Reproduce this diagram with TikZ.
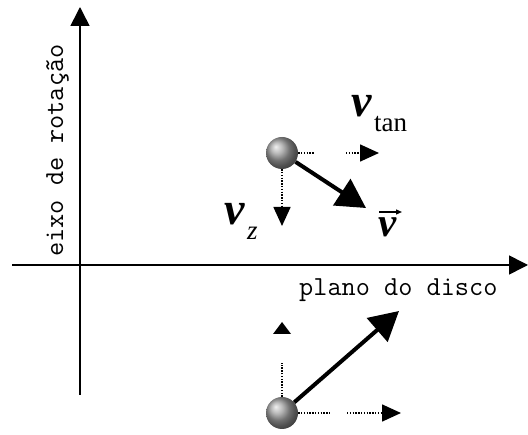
\documentclass[tikz,border=0pt]{standalone}
\usepackage{fontspec}
\usetikzlibrary{arrows.meta}
\newfontfamily\tnr{Liberation Serif}
\begin{document}
\begin{tikzpicture}[x=1pt,y=-1pt,
  axis/.style={line width=1.6pt,-{Triangle[length=19pt,width=19pt]}},
  ball/.style={circle,minimum size=32pt,inner sep=0pt,shading=ball,ball color=gray!75},
  dotline/.style={line width=1.6pt,dash pattern=on 1.4pt off 1.4pt},
  dotarrow/.style={dotline,-{Triangle[length=19pt,width=17pt]}},
  vecarrow/.style={line width=4pt,-{Triangle[length=29pt,width=31pt]}},
  accarrow/.style={line width=1.3pt,-{Triangle[length=6pt,width=5pt]}},
  lbl/.style={inner sep=0pt,font=\ttfamily\fontsize{27.5}{30}\selectfont},
  bigv/.style={inner sep=0pt,font=\tnr\bfseries\itshape\fontsize{46}{50}\selectfont},
  subl/.style={inner sep=0pt,font=\tnr\fontsize{27}{30}\selectfont}]
\useasboundingbox (0,0) rectangle (528,435);
% axes
\coordinate (vb) at (80,395);
\coordinate (vt) at (80,7);
\coordinate (hl) at (12,265);
\coordinate (hr) at (528,265);
\draw[axis] (vb) -- (vt);
\draw[axis] (hl) -- (hr);
\node[lbl,rotate=90,anchor=base west] (eixo) at (63,257) {eixo de rotação};
\node[lbl,anchor=base west] (plano) at (299,296) {plano do disco};
% upper particle
\node[ball] (p1) at (282,153) {};
\coordinate (a1) at (314,153);
\coordinate (a2) at (346,153);
\coordinate (a3) at (379,153);
\draw[dotline] (p1.east) -- (a1);
\draw[dotarrow] (a2) -- (a3);
\coordinate (z1) at (282,226);
\draw[dotarrow] (p1.south) -- (z1);
\coordinate (t1) at (366,208);
\draw[vecarrow] (p1) -- (t1);
\node[bigv,anchor=base west] (vtan) at (351,117) {v};
\node[subl,anchor=base west] (tan) at (374,132) {tan};
\node[bigv,anchor=base west] (vz) at (224,225) {v};
\node[subl,anchor=base west] (zz) at (247,240) {\itshape z};
\node[inner sep=0pt,anchor=base west,font=\tnr\bfseries\itshape\fontsize{41}{44}\selectfont] (vv) at (378,237) {v};
\coordinate (acc1) at (379,212);
\coordinate (acc2) at (402,212);
\draw[accarrow] (acc1) -- (acc2);
% lower particle
\node[ball] (p2) at (282,413) {};
\coordinate (b1) at (330,413);
\coordinate (b2) at (347,413);
\coordinate (b3) at (401,413);
\draw[dotline] (p2.east) -- (b1);
\draw[dotarrow] (b2) -- (b3);
\coordinate (u1) at (282,363);
\coordinate (u2) at (282,334);
\coordinate (u3) at (282,322);
\draw[dotline] (p2.north) -- (u1);
\fill (u3) -- ([xshift=-9pt]u2) -- ([xshift=9pt]u2) -- cycle;
\coordinate (t2) at (399,311);
\draw[vecarrow] (p2) -- (t2);
\end{tikzpicture}
\end{document}
